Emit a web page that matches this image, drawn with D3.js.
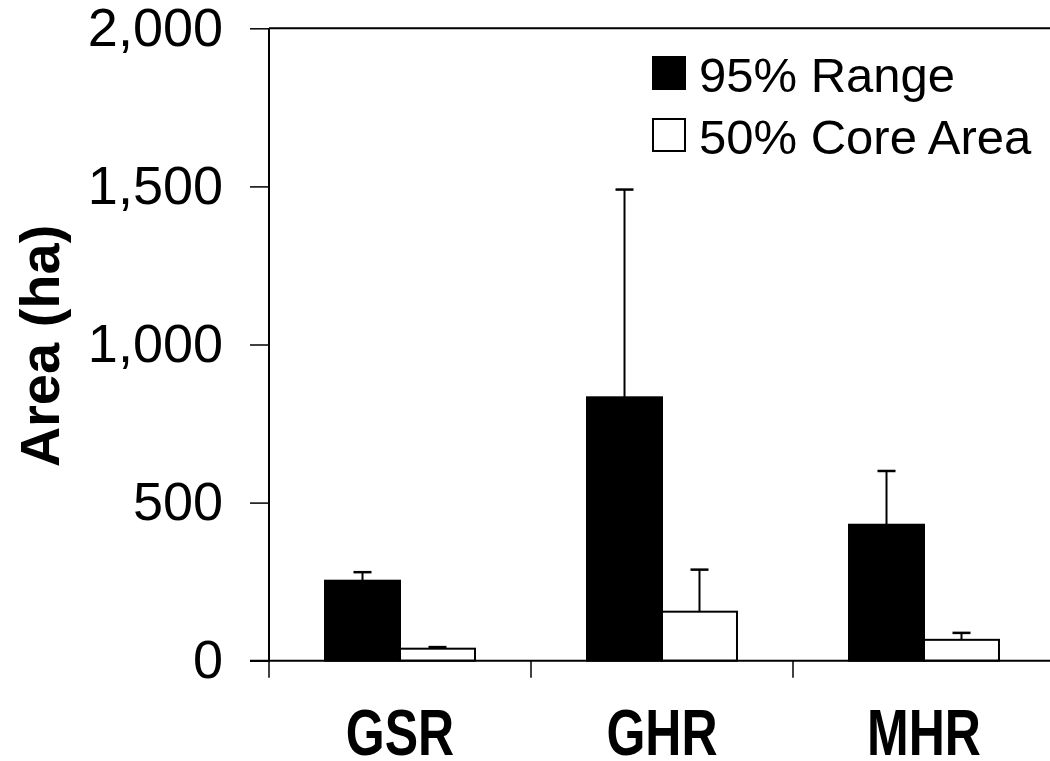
<!DOCTYPE html>
<html>
<head>
<meta charset="utf-8">
<script src="https://cdn.jsdelivr.net/npm/d3@7"></script>
<style>
  html, body { margin: 0; padding: 0; background: #fff; }
  svg { display: block; font-family: "Liberation Sans", Arial, sans-serif; }
</style>
</head>
<body>
<svg id="chart" width="1050" height="761"></svg>
<script>
// ---- data ----
const categories = ["GSR", "GHR", "MHR"];
const seriesNames = ["95% Range", "50% Core Area"];
const range95 = [253, 833, 430];
const range95Err = [27, 657, 170];
const core50 = [38, 155, 66];
const core50Err = [5, 133, 22];
const yTicks = [0, 500, 1000, 1500, 2000];
const seriesFill = ["#000000", "#ffffff"];

(function () {
const svg = d3.select("#chart");
const pLeft = 269, pRight = 1055, pTop = 28.3, pBottom = 660.7;

const y = d3.scaleLinear().domain([0, 2000]).range([pBottom, pTop]);
const x = d3.scaleBand().domain(categories).range([pLeft, pRight]).paddingInner(0).paddingOuter(0);
const x1 = d3.scaleBand().domain(seriesNames).range([0, x.bandwidth()]).paddingInner(0).paddingOuter(0.747);

const rows = categories.map((c, i) => ({
  cat: c,
  vals: [
    { s: seriesNames[0], v: range95[i], e: range95Err[i], fill: seriesFill[0] },
    { s: seriesNames[1], v: core50[i], e: core50Err[i], fill: seriesFill[1] }
  ]
}));

// top frame line
svg.append("line").attr("x1", pLeft).attr("x2", 1050).attr("y1", pTop).attr("y2", pTop)
  .attr("stroke", "#000").attr("stroke-width", 2);

// bars
const g = svg.append("g");
const grp = g.selectAll("g.cat").data(rows).join("g").attr("class", "cat")
  .attr("transform", d => `translate(${x(d.cat)},0)`);
grp.selectAll("rect").data(d => d.vals).join("rect")
  .attr("x", d => x1(d.s))
  .attr("y", d => y(d.v))
  .attr("width", x1.bandwidth())
  .attr("height", d => y(0) - y(d.v))
  .attr("fill", d => d.fill)
  .attr("stroke", "#000").attr("stroke-width", 2);

// error bars (upper only)
const capW = 18;
grp.selectAll("g.err").data(d => d.vals).join("g").attr("class", "err").each(function (d) {
  const cx = x1(d.s) + x1.bandwidth() / 2;
  const gg = d3.select(this);
  gg.append("line").attr("x1", cx).attr("x2", cx).attr("y1", y(d.v)).attr("y2", y(d.v + d.e))
    .attr("stroke", "#000").attr("stroke-width", 2);
  gg.append("line").attr("x1", cx - capW / 2).attr("x2", cx + capW / 2)
    .attr("y1", y(d.v + d.e)).attr("y2", y(d.v + d.e))
    .attr("stroke", "#000").attr("stroke-width", 2.5);
});

// y axis
const yAxis = svg.append("g").attr("transform", `translate(${pLeft},0)`)
  .call(d3.axisLeft(y).tickValues(yTicks).tickFormat(d3.format(",")).tickSize(19).tickPadding(27));
yAxis.select(".domain").remove();
yAxis.selectAll(".tick line").attr("stroke", "#000").attr("stroke-width", 1.5);
yAxis.selectAll(".tick text").attr("font-size", 54).attr("fill", "#000")
  .attr("font-family", "Liberation Sans, Arial, sans-serif");
svg.append("line").attr("x1", pLeft).attr("x2", pLeft).attr("y1", pTop).attr("y2", pBottom + 1)
  .attr("stroke", "#000").attr("stroke-width", 2);

// x axis
svg.append("line").attr("x1", pLeft - 19).attr("x2", 1050).attr("y1", pBottom).attr("y2", pBottom)
  .attr("stroke", "#000").attr("stroke-width", 2);
const xTickPos = categories.map(c => x(c)).concat([x(categories[categories.length - 1]) + x.bandwidth()]);
svg.append("g").selectAll("line").data(xTickPos).join("line")
  .attr("x1", d => d).attr("x2", d => d).attr("y1", pBottom).attr("y2", pBottom + 17)
  .attr("stroke", "#000").attr("stroke-width", 1.5);
svg.append("g").selectAll("text").data(categories).join("text")
  .attr("transform", d => `translate(${x(d) + x.bandwidth() / 2},755) scale(1,1.3)`)
  .attr("text-anchor", "middle")
  .attr("font-size", 50).attr("font-weight", "bold")
  .text(d => d);

// y axis title
svg.append("text")
  .attr("transform", "translate(59,346) rotate(-90)")
  .attr("text-anchor", "middle")
  .attr("font-size", 56).attr("font-weight", "bold")
  .text("Area (ha)");

// legend
const leg = svg.append("g");
seriesNames.forEach((s, i) => {
  const yy = 57 + i * 62;
  leg.append("rect").attr("x", 653).attr("y", yy).attr("width", 32).attr("height", 32)
    .attr("fill", seriesFill[i]).attr("stroke", "#000").attr("stroke-width", 2);
  leg.append("text").attr("x", 699).attr("y", yy + 35).attr("font-size", 49).text(s);
});
})();
</script>
</body>
</html>
